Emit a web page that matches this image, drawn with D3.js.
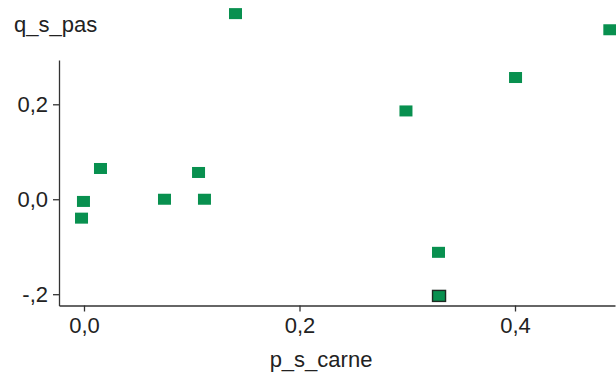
<!DOCTYPE html>
<html lang="en">
<head>
<meta charset="UTF-8">
<title>Scatter</title>
<script src="https://d3js.org/d3.v7.min.js"></script>
<style>
  body { margin: 0; background: #fff; }
  svg text { font-family: "Liberation Sans", Arial, sans-serif; fill: #222; }
</style>
</head>
<body>
<svg id="chart"></svg>
<script>
// Werte
var pCarne = [0.1406, 0.488, 0.4005, 0.2988, 0.0153, 0.1063, -0.0005, 0.0747, 0.1118, -0.0023, 0.329, 0.3295];
var qPas   = [0.391, 0.357, 0.2564, 0.186, 0.0648, 0.0564, -0.0046, 0.0, 0.0, -0.0398, -0.1118, -0.2036];
var highlighted = [false, false, false, false, false, false, false, false, false, false, false, true];
var xTicks = [0, 0.2, 0.4];
var yTicks = [-0.2, 0, 0.2];

var width = 616, height = 372;
var mLeft = 59, mRight = 615, mTop = 60, mBottom = 305.5;

var svg = d3.select("#chart").attr("width", width).attr("height", height);

var x = d3.scaleLinear().domain([-0.0232, 0.4928]).range([mLeft, mRight]);
var y = d3.scaleLinear().domain([-0.2238, 0.2933]).range([mBottom, mTop]);

function fmt(v) {
    var s = d3.format(".1f")(v).replace(".", ",").replace("−", "-");
    return s.replace(/^-0,/, "-,");
}

// Achsen
var xAxis = svg.append("g")
    .attr("transform", "translate(0," + mBottom + ")")
    .call(d3.axisBottom(x).tickValues(xTicks).tickFormat(fmt).tickSize(6).tickPadding(6).tickSizeOuter(0));
var yAxis = svg.append("g")
    .attr("transform", "translate(" + mLeft + ",0)")
    .call(d3.axisLeft(y).tickValues(yTicks).tickFormat(fmt).tickSize(6).tickPadding(5).tickSizeOuter(0));

[xAxis, yAxis].forEach(function(a) {
    a.selectAll("path, line").attr("stroke", "#333").attr("stroke-width", 1.3);
    a.selectAll("text").style("font-size", "22px").attr("fill", "#222");
});

// Punkte
var pts = pCarne.map(function(v, i) { return {x: v, y: qPas[i], h: highlighted[i]}; });
svg.append("g").selectAll("rect")
    .data(pts)
    .enter().append("rect")
    .attr("x", function(d) { return x(d.x) - 6.5; })
    .attr("y", function(d) { return y(d.y) - 5.5; })
    .attr("width", 13)
    .attr("height", 11)
    .attr("fill", "#08904f")
    .attr("stroke", function(d) { return d.h ? "#1e2a22" : "none"; })
    .attr("stroke-width", 1.4);

// Titel
svg.append("text")
    .attr("x", 14).attr("y", 32)
    .style("font-size", "22px")
    .text("q_s_pas");
svg.append("text")
    .attr("x", 321).attr("y", 367)
    .attr("text-anchor", "middle")
    .style("font-size", "22px")
    .text("p_s_carne");
</script>
</body>
</html>
